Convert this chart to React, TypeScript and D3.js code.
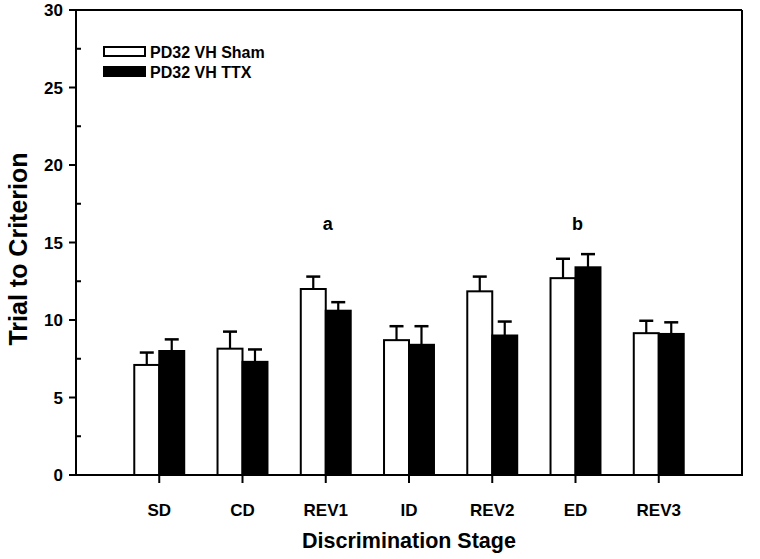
import React from "react";
import * as d3 from "d3";

const categories = ["SD", "CD", "REV1", "ID", "REV2", "ED", "REV3"];
const shamMeans = [7.1, 8.15, 12.0, 8.7, 11.85, 12.7, 9.15];
const shamErr = [0.8, 1.1, 0.8, 0.9, 0.95, 1.25, 0.8];
const ttxMeans = [8.0, 7.3, 10.6, 8.4, 9.0, 13.4, 9.1];
const ttxErr = [0.75, 0.8, 0.55, 1.2, 0.9, 0.85, 0.75];
const seriesNames = ["PD32 VH Sham", "PD32 VH TTX"];
const annotationCats = ["REV1", "ED"];
const annotationTexts = ["a", "b"];
const yMajorTicks = [0, 5, 10, 15, 20, 25, 30];
const yMinorTicks = [2.5, 7.5, 12.5, 17.5, 22.5, 27.5];

const W = 760;
const H = 559;
const left = 76;
const right = 742;
const top = 10;
const bottom = 475;
const FONT = "'Liberation Sans', Arial, sans-serif";

export default function App() {
  const x = d3.scaleLinear().domain([0, categories.length + 1]).range([left, right]);
  const y = d3.scaleLinear().domain([0, 30]).range([bottom, top]);
  const barW = x(0.3) - x(0);
  const capW = 14;

  const series = [
    { means: shamMeans, errs: shamErr, fill: "#fff", offset: -1 },
    { means: ttxMeans, errs: ttxErr, fill: "#000", offset: 0 },
  ];

  return (
    <svg width={W} height={H} style={{ position: "absolute", left: 0, top: 0, background: "#fff" }}>
      {series.map((s, si) =>
        categories.map((c, i) => {
          const cx = x(i + 1);
          const bx = cx + s.offset * barW;
          const yTop = y(s.means[i]);
          const yErr = y(s.means[i] + s.errs[i]);
          const mid = bx + barW / 2;
          return (
            <g key={`${si}-${c}`}>
              <line x1={mid} x2={mid} y1={yTop} y2={yErr} stroke="#000" strokeWidth={2.2} />
              <line x1={mid - capW / 2} x2={mid + capW / 2} y1={yErr} y2={yErr} stroke="#000" strokeWidth={2.5} />
              <rect x={bx} y={yTop} width={barW} height={bottom - yTop} fill={s.fill} stroke="#000" strokeWidth={2} />
            </g>
          );
        })
      )}
      <line x1={left} x2={right} y1={top} y2={top} stroke="#000" strokeWidth={2} />
      <line x1={right} x2={right} y1={top} y2={bottom} stroke="#000" strokeWidth={2} />
      <line x1={left} x2={left} y1={top - 1} y2={bottom + 1} stroke="#000" strokeWidth={2} />
      <line x1={left - 1} x2={right + 1} y1={bottom} y2={bottom} stroke="#000" strokeWidth={2} />
      {yMajorTicks.map((t) => (
        <g key={`ym${t}`}>
          <line x1={left - 7} x2={left} y1={y(t)} y2={y(t)} stroke="#000" strokeWidth={2} />
          <text x={left - 13} y={y(t)} dy="0.36em" textAnchor="end" fontFamily={FONT} fontWeight="bold" fontSize={17}>
            {t}
          </text>
        </g>
      ))}
      {yMinorTicks.map((t) => (
        <line key={`yn${t}`} x1={left} x2={left + 5} y1={y(t)} y2={y(t)} stroke="#000" strokeWidth={2} />
      ))}
      {categories.map((c, i) => (
        <g key={`xt${c}`}>
          <line x1={x(i + 1)} x2={x(i + 1)} y1={bottom} y2={bottom + 8} stroke="#000" strokeWidth={2} />
          <text x={x(i + 1)} y={516} textAnchor="middle" fontFamily={FONT} fontWeight="bold" fontSize={17}>
            {c}
          </text>
        </g>
      ))}
      {annotationCats.map((c, k) => (
        <text key={`an${c}`} x={x(categories.indexOf(c) + 1) + 2} y={230} textAnchor="middle" fontFamily={FONT} fontWeight="bold" fontSize={18}>
          {annotationTexts[k]}
        </text>
      ))}
      <text x={409} y={548} textAnchor="middle" fontFamily={FONT} fontWeight="bold" fontSize={21.5}>
        Discrimination Stage
      </text>
      <text transform={`translate(27,249) rotate(-90)`} textAnchor="middle" fontFamily={FONT} fontWeight="bold" fontSize={25}>
        Trial to Criterion
      </text>
      {seriesNames.map((n, k) => (
        <g key={`lg${n}`}>
          <rect x={104} y={47 + k * 20} width={41} height={9} fill={k === 0 ? "#fff" : "#000"} stroke="#000" strokeWidth={2} />
          <text x={150} y={57.5 + k * 20} fontFamily={FONT} fontWeight="bold" fontSize={16}>
            {n}
          </text>
        </g>
      ))}
    </svg>
  );
}
